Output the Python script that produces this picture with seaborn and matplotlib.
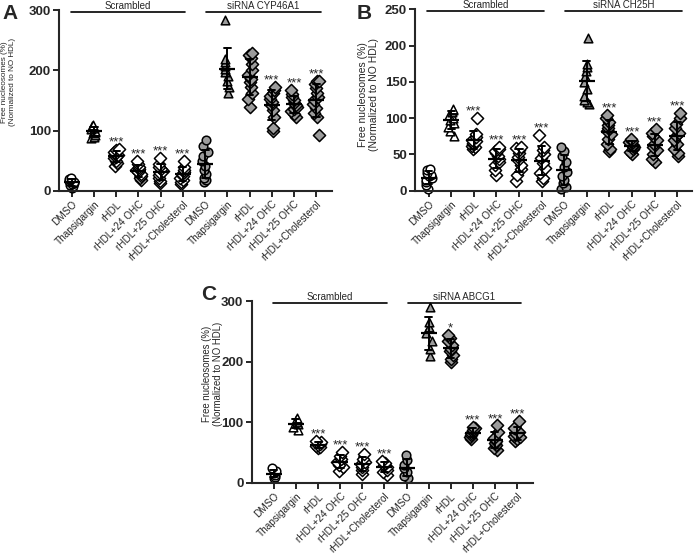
import numpy as np
import pandas as pd
import matplotlib
matplotlib.use("Agg")
import matplotlib.pyplot as plt
import seaborn as sns

# Group names, shared by all three panels
treatments = ["DMSO", "Thapsigargin", "rHDL", "rHDL+24 OHC", "rHDL+25 OHC", "rHDL+Cholesterol"]

# Panel A: free nucleosomes (%), scrambled vs siRNA CYP46A1
a_arms = ["Scrambled", "siRNA CYP46A1"]
a_scrambled = [
    [5, 8, 10, 12, 13, 15, 17, 19, 20, 22],
    [88, 90, 93, 96, 98, 100, 102, 104, 107, 110],
    [42, 46, 50, 54, 57, 60, 62, 65, 68, 70],
    [18, 22, 25, 28, 31, 34, 37, 40, 45, 50],
    [13, 17, 22, 26, 30, 33, 36, 40, 45, 55],
    [12, 15, 18, 22, 25, 28, 31, 35, 40, 50],
]
a_sirna = [
    [15, 18, 22, 28, 35, 42, 50, 58, 65, 75, 85],
    [162, 172, 182, 190, 198, 203, 208, 213, 218, 283],
    [140, 152, 162, 172, 180, 186, 192, 200, 210, 220, 226, 228],
    [100, 105, 122, 135, 142, 148, 152, 158, 163, 168, 172],
    [123, 127, 132, 136, 140, 143, 146, 150, 155, 160, 168],
    [92, 122, 130, 138, 145, 150, 156, 162, 170, 178, 182, 183],
]
a_stars = ["", "", "***", "***", "***", "***", "", "", "", "***", "***", "***"]

# Panel B: scrambled vs siRNA CH25H
b_arms = ["Scrambled", "siRNA CH25H"]
b_scrambled = [
    [3, 8, 12, 15, 18, 20, 22, 25, 28, 30],
    [75, 82, 88, 93, 97, 100, 104, 108, 111, 113],
    [57, 60, 62, 64, 66, 68, 70, 74, 78, 100],
    [22, 28, 35, 40, 44, 48, 52, 55, 58, 60],
    [13, 22, 30, 36, 42, 47, 52, 56, 59, 60],
    [14, 18, 25, 32, 38, 45, 50, 56, 60, 77],
]
b_sirna = [
    [2, 5, 10, 15, 20, 26, 33, 40, 48, 55, 60],
    [120, 122, 125, 130, 140, 150, 158, 165, 170, 175, 210],
    [55, 58, 65, 72, 78, 82, 86, 90, 95, 100, 105],
    [50, 54, 57, 60, 62, 63, 65, 67, 69, 72],
    [40, 44, 50, 56, 60, 65, 70, 76, 80, 85],
    [48, 52, 58, 64, 70, 75, 80, 86, 92, 100, 107],
]
b_stars = ["", "", "***", "***", "***", "***", "", "", "***", "***", "***", "***"]

# Panel C: scrambled vs siRNA ABCG1
c_arms = ["Scrambled", "siRNA ABCG1"]
c_scrambled = [
    [8, 10, 14, 17, 20, 25],
    [87, 92, 97, 100, 104, 108],
    [57, 59, 61, 63, 65, 67, 70],
    [20, 26, 30, 35, 40, 45, 52],
    [15, 22, 27, 31, 35, 40, 48],
    [14, 18, 22, 26, 30, 33, 37],
]
c_sirna = [
    [8, 12, 18, 24, 30, 38, 47],
    [210, 222, 235, 248, 258, 265, 290],
    [200, 205, 212, 218, 222, 228, 235, 240, 245],
    [73, 76, 79, 82, 85, 88, 90, 93],
    [55, 58, 62, 66, 70, 75, 85, 95],
    [70, 73, 76, 78, 81, 85, 90, 103],
]
c_stars = ["", "", "***", "***", "***", "***", "", "", "*", "***", "***", "***"]

GREY = "#9c9c9c"
markers = {"DMSO": "o", "Thapsigargin": "^"}


def build_frame(scrambled, sirna, arms):
    rows = []
    for arm, groups in zip(arms, [scrambled, sirna]):
        for treat, vals in zip(treatments, groups):
            for v in vals:
                rows.append({"arm": arm, "treatment": treat,
                             "group": arm + "|" + treat, "value": v})
    return pd.DataFrame(rows)


def draw_panel(ax, df, arms, stars, ymax, ystep, xlim, label_size, label_xy):
    order = [a + "|" + t for a in arms for t in treatments]

    # individual points, white for scrambled and grey for siRNA
    for arm, face in zip(arms, ["white", GREY]):
        for treat in treatments:
            sub = df[(df["arm"] == arm) & (df["treatment"] == treat)]
            sns.stripplot(data=sub, x="group", y="value", order=order,
                          marker=markers.get(treat, "D"), color=face,
                          edgecolor="black", linewidth=1.1, size=6.2,
                          jitter=0.14, ax=ax)

    # mean +/- SD
    sns.pointplot(data=df, x="group", y="value", order=order, errorbar="sd",
                  color="black", markers="_", linestyles="none", markersize=12,
                  markeredgewidth=1.6, capsize=0.32, err_kws={"linewidth": 1.4},
                  ax=ax)
    for coll in ax.collections:
        coll.set_clip_on(False)
        coll.set_zorder(2)
    for line in ax.lines:
        line.set_zorder(4)
        line.set_clip_on(False)

    # significance stars above each group
    tops = df.groupby("group")["value"].max().reindex(order)
    for i, (s, top) in enumerate(zip(stars, tops)):
        if s:
            ax.annotate(s, (i, top), xytext=(0, 2.5), textcoords="offset points",
                        ha="center", va="baseline", fontsize=9.5)

    # group brackets at the top
    for arm, (x0, x1) in zip(arms, [(-0.05, 5.1), (6.05, 11.2)]):
        ax.plot([x0, x1], [ymax * 0.99, ymax * 0.99], color="black", lw=1.2,
                clip_on=False)
        ax.annotate(arm, ((x0 + x1) / 2, ymax * 0.99), xytext=(0, 2.2),
                    textcoords="offset points", ha="center", va="baseline",
                    fontsize=7)

    ax.set_xlim(*xlim)
    ax.set_ylim(0, ymax)
    ax.set_yticks(np.arange(0, ymax + 1, ystep))
    ax.set_xticks(range(12))
    ax.set_xticklabels(treatments * 2, rotation=45, ha="right",
                       rotation_mode="anchor", fontsize=7.2)
    for lab in ax.get_yticklabels():
        lab.set_fontweight("bold")
        lab.set_fontsize(9.5)
    ax.tick_params(axis="both", direction="out", length=4.5, width=1.4, pad=1.5)
    ax.set_xlabel("")
    ax.set_ylabel("Free nucleosomes (%)\n(Normalized to NO HDL)",
                  fontsize=label_size, linespacing=1.1)
    ax.yaxis.set_label_coords(*label_xy)
    sns.despine(ax=ax)
    for side in ["left", "bottom"]:
        ax.spines[side].set_linewidth(1.5)


sns.set_style("ticks")
plt.rcParams["font.family"] = ["Liberation Sans", "DejaVu Sans"]
np.random.seed(3)

fig = plt.figure(figsize=(6.94, 5.56), dpi=100)
ax_a = fig.add_axes([0.0855, 0.6565, 0.3925, 0.3255])
ax_b = fig.add_axes([0.5984, 0.657, 0.3987, 0.326])
ax_c = fig.add_axes([0.3627, 0.1313, 0.4053, 0.3268])

draw_panel(ax_a, build_frame(a_scrambled, a_sirna, a_arms), a_arms, a_stars,
           300, 100, (-0.56, 11.7), 5.9, (-0.16, 0.60))
draw_panel(ax_b, build_frame(b_scrambled, b_sirna, b_arms), b_arms, b_stars,
           250, 50, (-0.59, 11.65), 7.5, (-0.131, 0.53))
draw_panel(ax_c, build_frame(c_scrambled, c_sirna, c_arms), c_arms, c_stars,
           300, 100, (-1.0, 11.72), 6.9, (-0.102, 0.60))

for letter, x, y in [("A", 0.003, 0.992), ("B", 0.514, 0.992), ("C", 0.290, 0.487)]:
    fig.text(x, y, letter, fontsize=15, fontweight="bold", va="top", ha="left")

fig.savefig("out.png", dpi=100)
